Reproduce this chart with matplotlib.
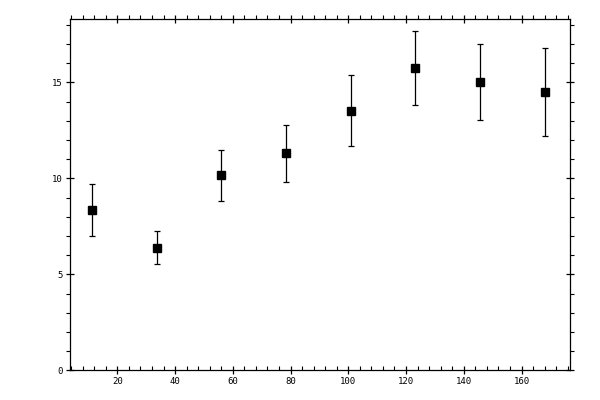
import matplotlib
matplotlib.use("Agg")
import matplotlib.pyplot as plt
from matplotlib.ticker import MultipleLocator

x_values = [11.2, 33.6, 56.0, 78.4, 100.8, 123.2, 145.6, 168.0]
y_values = [8.35, 6.40, 10.15, 11.30, 13.52, 15.73, 15.00, 14.48]
y_errors = [1.36, 0.88, 1.33, 1.48, 1.85, 1.93, 1.98, 2.29]
x_ticks = [20, 40, 60, 80, 100, 120, 140, 160]
y_ticks = [0, 5, 10, 15]

fig = plt.figure(figsize=(6, 4), dpi=100)
ax = fig.add_axes([0.1162, 0.0738, 0.8343, 0.878])

ax.errorbar(x_values, y_values, yerr=y_errors, fmt='s', color='black',
            markersize=5.2, elinewidth=0.9, capsize=2.0, capthick=0.9,
            ecolor='black')

ax.set_xlim(3.5, 176.9)
ax.set_ylim(0, 18.28)
ax.set_xticks(x_ticks)
ax.set_yticks(y_ticks)
ax.xaxis.set_minor_locator(MultipleLocator(4))
ax.yaxis.set_minor_locator(MultipleLocator(1))

for s in ax.spines.values():
    s.set_linewidth(0.9)

font = {'family': 'DejaVu Sans Mono', 'size': 6.5}
ax.set_xticklabels([str(t) for t in x_ticks], **font)
ax.set_yticklabels([str(t) for t in y_ticks], **font)

ax.tick_params(which='major', direction='inout', length=6, width=0.9,
               top=True, right=True, pad=2)
ax.tick_params(which='minor', direction='out', length=3, width=0.8,
               top=True, right=True)
ax.tick_params(axis='x', which='minor', bottom=True)
# bottom minor ticks point inward
for t in ax.xaxis.get_minor_ticks():
    t.tick1line.set_marker(2)  # TICKUP

fig.savefig("out.png", dpi=100)
